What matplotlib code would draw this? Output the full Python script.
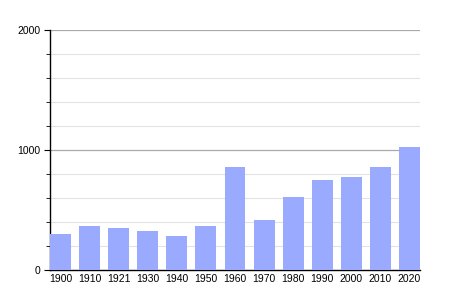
import matplotlib
matplotlib.use("Agg")
import matplotlib.pyplot as plt
from matplotlib.ticker import MultipleLocator

years = ["1900", "1910", "1921", "1930", "1940", "1950", "1960", "1970", "1980", "1990", "2000", "2010", "2020"]
population = [300, 367, 350, 325, 283, 367, 858, 417, 608, 750, 775, 858, 1025]

plt.rcParams['font.family'] = ['Liberation Sans', 'DejaVu Sans']

fig = plt.figure(figsize=(4.5, 3), dpi=100)
ax = fig.add_axes([50/450, 0.1, 370/450, 0.8])

x = list(range(len(years)))
ax.bar(x, population, width=0.72, color='#99aaff', zorder=3)

ax.set_xlim(-0.361, len(years) - 1 + 0.361)
ax.set_ylim(0, 2000)
ax.set_yticks([0, 1000, 2000])
ax.yaxis.set_minor_locator(MultipleLocator(200))
ax.set_xticks(x)
ax.set_xticklabels(years)

for v in range(200, 2000, 200):
    if v % 1000:
        ax.axhline(v, color='#e3e3e3', lw=0.8, zorder=1)
for v in (1000, 2000):
    ax.axhline(v, color='#aaaaaa', lw=0.9, zorder=1)

for s in ('top', 'right'):
    ax.spines[s].set_visible(False)
ax.spines['left'].set_color('black')
ax.spines['bottom'].set_color('black')
ax.spines['left'].set_linewidth(1)
ax.spines['bottom'].set_linewidth(1)

ax.tick_params(axis='x', length=0, labelsize=7.5, pad=3)
ax.tick_params(axis='y', which='major', length=4, labelsize=7.5, pad=3)
ax.tick_params(axis='y', which='minor', length=3)

fig.savefig("out.png", dpi=100)
